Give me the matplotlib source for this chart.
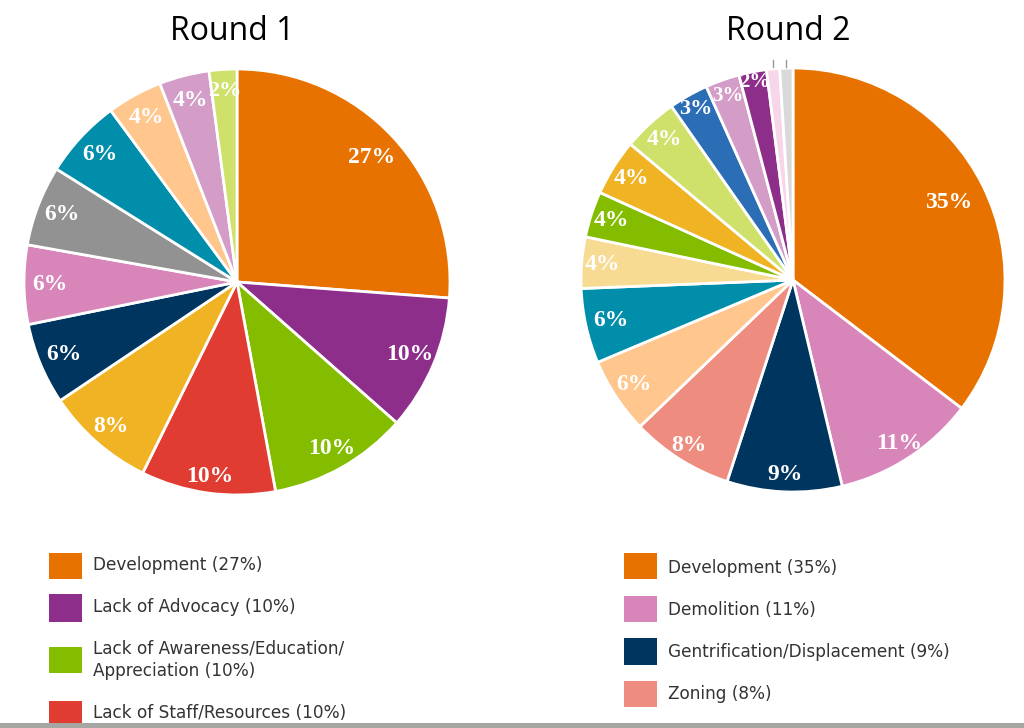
import matplotlib
matplotlib.use('Agg')
import numpy as np
import matplotlib.pyplot as plt
from matplotlib.patches import Rectangle

# Round 1 data (slice shares, labels as printed)
r1_values = [26.2, 10.3, 10.6, 10.2, 8.3, 6.2, 6.0, 6.1, 6.0, 4.2, 3.8, 2.1]
r1_labels = ['27%', '10%', '10%', '10%', '8%', '6%', '6%', '6%', '6%', '4%', '4%', '2%']
r1_colors = ['#E87200', '#8E2E8B', '#84BD00', '#E03C31', '#F0B323', '#00355F',
             '#D886BA', '#929292', '#008EAA', '#FFC68D', '#D39DC8', '#CFE16B']
r1_legend = ['Development (27%)', 'Lack of Advocacy (10%)',
             'Lack of Awareness/Education/\nAppreciation (10%)',
             'Lack of Staff/Resources (10%)']

# Round 2 data (last two slices are tiny, unlabelled)
r2_values = [35.3, 10.9, 8.75, 7.8, 5.8, 5.7, 3.9, 3.5, 4.3, 4.2, 3.0, 2.6, 2.1, 1.0, 1.0]
r2_labels = ['35%', '11%', '9%', '8%', '6%', '6%', '4%', '4%', '4%', '4%',
             '3%', '3%', '2%', '', '']
r2_colors = ['#E87200', '#D886BA', '#00355F', '#EE8C80', '#FFC68D', '#008EAA',
             '#F8DB93', '#84BD00', '#F0B323', '#CFE16B', '#2C6EB5', '#D39DC8',
             '#8E2E8B', '#F6D6E8', '#D9D9D9']
r2_legend = ['Development (35%)', 'Demolition (11%)',
             'Gentrification/Displacement (9%)', 'Zoning (8%)', '']

W, H = 1024, 728
fig = plt.figure(figsize=(W / 100, H / 100), dpi=100)
fig.patch.set_facecolor('white')


def px_axes(cx, cy, r):
    return fig.add_axes([(cx - r) / W, (H - cy - r) / H, 2 * r / W, 2 * r / H])


def draw_pie(ax, values, colors, labels, dists, sizes):
    wedges, _ = ax.pie(values, colors=colors, startangle=90, counterclock=False,
                       wedgeprops=dict(edgecolor='white', linewidth=2))
    for w, lab, d, fs in zip(wedges, labels, dists, sizes):
        if not lab:
            continue
        ang = np.deg2rad((w.theta1 + w.theta2) / 2)
        ax.text(d * np.cos(ang), d * np.sin(ang), lab, color='white',
                ha='center', va='center', fontsize=fs, fontweight='bold',
                family='Liberation Serif')
    ax.set_xlim(-1, 1)
    ax.set_ylim(-1, 1)
    ax.set_aspect('equal')
    ax.axis('off')
    return wedges


ax1 = px_axes(237, 282, 213)
r1_dists = [0.86, 0.88, 0.9, 0.92, 0.9, 0.88, 0.88, 0.88, 0.88, 0.88, 0.88, 0.9]
r1_sizes = [17] * 11 + [16]
draw_pie(ax1, r1_values, r1_colors, r1_labels, r1_dists, r1_sizes)

ax2 = px_axes(793, 280, 212)
r2_dists = [0.82, 0.92, 0.92, 0.92, 0.9, 0.88, 0.9, 0.9, 0.9, 0.9, 0.93, 0.92, 0.95, 0, 0]
r2_sizes = [17] * 10 + [16, 15, 15, 0, 0]
w2 = draw_pie(ax2, r2_values, r2_colors, r2_labels, r2_dists, r2_sizes)
# leader ticks for the two tiny slices
for w in w2[-2:]:
    ang = np.deg2rad((w.theta1 + w.theta2) / 2)
    ax2.plot([np.cos(ang), np.cos(ang)], [1.005, 1.04],
             color='#999999', lw=1, clip_on=False)

fig.text(232 / W, 1 - 31 / H, 'Round 1', ha='center', va='center',
         fontsize=23, family='Open Sans')
fig.text(788 / W, 1 - 31 / H, 'Round 2', ha='center', va='center',
         fontsize=23, family='Open Sans')


def legend_item(x, y0, y1, color, text, ty):
    fig.patches.append(Rectangle((x / W, 1 - y1 / H), 33 / W, (y1 - y0) / H,
                                 transform=fig.transFigure, facecolor=color,
                                 edgecolor='none'))
    if text:
        fig.text((x + 44) / W, 1 - ty / H, text, ha='left', va='center',
                 fontsize=12.2, color='#333333', family='DejaVu Sans',
                 linespacing=1.3)


r1_box = [(553, 579), (594, 622), (647, 673), (701, 730)]
r1_ty = [565, 607, 660, 713]
for (y0, y1), c, t, ty in zip(r1_box, r1_colors[:4], r1_legend, r1_ty):
    legend_item(49, y0, y1, c, t, ty)

r2_box = [(553, 579), (596, 622), (638, 665), (681, 707), (723, 730)]
r2_ty = [568, 610, 652, 694, 736]
for (y0, y1), c, t, ty in zip(r2_box, r2_colors[:5], r2_legend, r2_ty):
    legend_item(624, y0, y1, c, t, ty)

# grey strip along the bottom edge
fig.patches.append(Rectangle((0, 0), 1, 5 / H, transform=fig.transFigure,
                             facecolor='#A6A6A2', edgecolor='none'))

fig.savefig('out.png', dpi=100)
